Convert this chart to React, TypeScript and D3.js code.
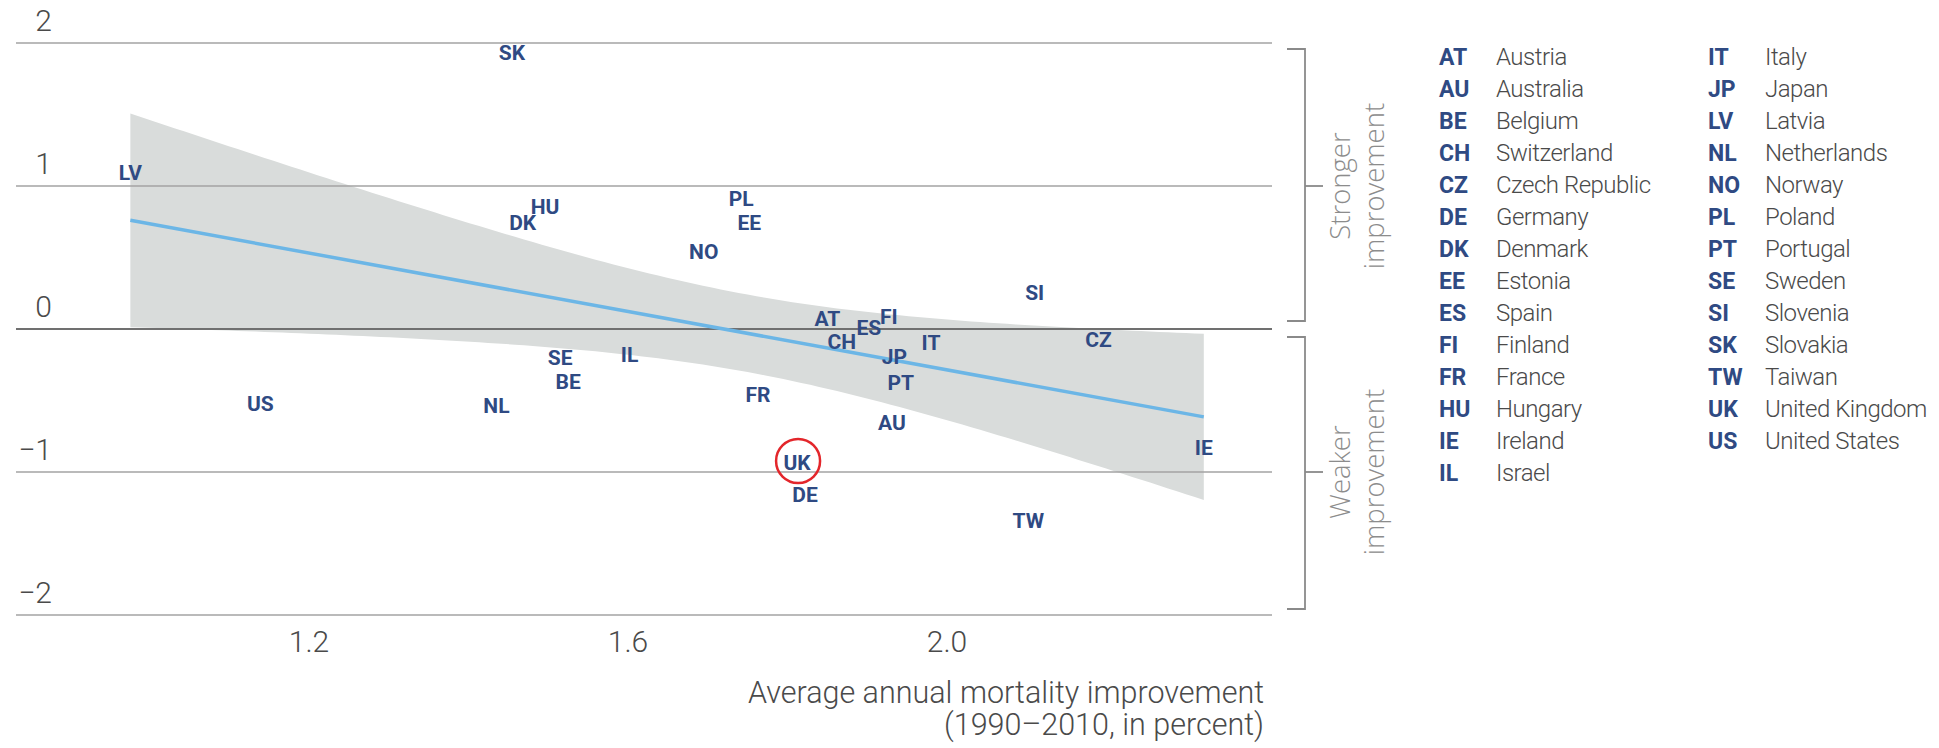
import React from "react";
import * as d3 from "d3";

// ---- data ----
const codes = [
  "AT", "AU", "BE", "CH", "CZ", "DE", "DK", "EE", "ES", "FI", "FR", "HU", "IE", "IL",
  "IT", "JP", "LV", "NL", "NO", "PL", "PT", "SE", "SI", "SK", "TW", "UK", "US",
];
const names = [
  "Austria", "Australia", "Belgium", "Switzerland", "Czech Republic", "Germany", "Denmark",
  "Estonia", "Spain", "Finland", "France", "Hungary", "Ireland", "Israel",
  "Italy", "Japan", "Latvia", "Netherlands", "Norway", "Poland", "Portugal", "Sweden",
  "Slovenia", "Slovakia", "Taiwan", "United Kingdom", "United States",
];
// Average annual mortality improvement 1990–2010 (percent)
const improvement = [
  1.850, 1.931, 1.525, 1.868, 2.190, 1.822, 1.468, 1.752, 1.902, 1.927, 1.763, 1.496, 2.322, 1.602,
  1.980, 1.934, 0.976, 1.435, 1.695, 1.742, 1.942, 1.515, 2.110, 1.4545, 2.102, 1.812, 1.139,
];
// Deviation (stronger / weaker improvement)
const deviation = [
  0.070, -0.655, -0.368, -0.089, -0.080, -1.161, 0.741, 0.741, 0.007, 0.086, -0.462, 0.853, -0.832, -0.182,
  -0.100, -0.194, 1.090, -0.538, 0.538, 0.909, -0.378, -0.205, 0.252, 1.930, -1.340, -0.937, -0.524,
];
const xTicks = [1.2, 1.6, 2.0];
const yTicks = [2, 1, 0, -1, -2];
const highlighted = "UK";
const xTitleLines = ["Average annual mortality improvement", "(1990\u20132010, in percent)"];
const bracketLabels = [
  ["Stronger", "improvement"],
  ["Weaker", "improvement"],
];
const legendRowsPerColumn = 14;
const T_CRIT = 2.0595; // 95% two-sided, df = n - 2 = 25

const NAVY = "#2f4a83";
const GREY_TEXT = "#4a4a4a";

export default function App() {
  const W = 1939;
  const H = 748;
  const x = d3.scaleLinear().domain([1.2, 2.0]).range([309, 947]);
  const y = d3.scaleLinear().domain([-2, 2]).range([615, 43]);
  const plotLeft = 16;
  const plotRight = 1272;

  // OLS regression with 95% confidence band
  const n = codes.length;
  const mx = d3.mean(improvement) as number;
  const my = d3.mean(deviation) as number;
  let sxx = 0;
  let sxy = 0;
  for (let i = 0; i < n; i++) {
    sxx += (improvement[i] - mx) ** 2;
    sxy += (improvement[i] - mx) * (deviation[i] - my);
  }
  const slope = sxy / sxx;
  const icpt = my - slope * mx;
  let sse = 0;
  for (let i = 0; i < n; i++) sse += (deviation[i] - (icpt + slope * improvement[i])) ** 2;
  const s = Math.sqrt(sse / (n - 2));
  const [xmin, xmax] = d3.extent(improvement) as [number, number];
  const xs = d3.range(0, 121).map((i) => xmin + ((xmax - xmin) * i) / 120);
  const bandPts = xs.map((v) => {
    const fit = icpt + slope * v;
    const se = s * Math.sqrt(1 / n + (v - mx) ** 2 / sxx);
    return { v, lo: fit - T_CRIT * se, hi: fit + T_CRIT * se };
  });
  const area = d3
    .area<{ v: number; lo: number; hi: number }>()
    .x((d) => x(d.v))
    .y0((d) => y(d.lo))
    .y1((d) => y(d.hi));
  const line = d3
    .line<number>()
    .x((v) => x(v))
    .y((v) => y(icpt + slope * v));

  const fmtY = d3.format("d");
  const fmtX = d3.format(".1f");

  // bracket geometry
  const brX = 1305;
  const brackets = [
    { top: y(2) + 6, bottom: y(0) - 8, mid: y(1) },
    { top: y(0) + 8, bottom: y(-2) - 6, mid: y(-1) },
  ];

  const ukIdx = codes.indexOf(highlighted);

  return (
    <svg
      width={W}
      height={H}
      style={{ position: "absolute", left: 0, top: 0, background: "#fff" }}
    >
      {/* confidence band */}
      <path d={area(bandPts) || ""} fill="#d9dcdb" />

      {/* gridlines */}
      {yTicks.map((t) => (
        <line
          key={"g" + t}
          x1={plotLeft}
          x2={plotRight}
          y1={y(t)}
          y2={y(t)}
          stroke={t === 0 ? "#707070" : "#a3a3a3"}
          strokeWidth={t === 0 ? 2.2 : 1.6}
        />
      ))}

      {/* regression line */}
      <path d={line([xmin, xmax]) || ""} stroke="#6cb6e6" strokeWidth={3.5} fill="none" />

      {/* y tick labels */}
      {yTicks.map((t) => (
        <text
          key={"yl" + t}
          x={52}
          y={y(t) - 12}
          textAnchor="end"
          fontFamily="Roboto"
          fontWeight={300}
          fontSize={30}
          fill={GREY_TEXT}
        >
          {fmtY(t)}
        </text>
      ))}

      {/* x tick labels */}
      {xTicks.map((t) => (
        <text
          key={"xl" + t}
          x={x(t)}
          y={652}
          textAnchor="middle"
          fontFamily="Roboto"
          fontWeight={300}
          fontSize={30}
          fill={GREY_TEXT}
        >
          {fmtX(t)}
        </text>
      ))}

      {/* x title */}
      {xTitleLines.map((l, i) => (
        <text
          key={"xt" + i}
          x={1264}
          y={703 + i * 32}
          textAnchor="end"
          fontFamily="Roboto"
          fontWeight={300}
          fontSize={30.5}
          fill={GREY_TEXT}
        >
          {l}
        </text>
      ))}

      {/* country labels */}
      {codes.map((c, i) => (
        <text
          key={"c" + c}
          x={x(improvement[i])}
          y={y(deviation[i])}
          textAnchor="middle"
          dominantBaseline="central"
          fontFamily="Roboto"
          fontWeight={700}
          fontSize={21}
          fill={NAVY}
        >
          {c}
        </text>
      ))}

      {/* highlight circle */}
      {ukIdx >= 0 && (
        <circle
          cx={x(improvement[ukIdx]) + 1}
          cy={y(deviation[ukIdx]) - 2}
          r={22}
          fill="none"
          stroke="#e3262b"
          strokeWidth={2.5}
        />
      )}

      {/* brackets */}
      {brackets.map((b, i) => (
        <g key={"br" + i} stroke="#8a8a8a" strokeWidth={1.8} fill="none">
          <path d={`M${brX - 18},${b.top}H${brX}V${b.bottom}H${brX - 18}`} />
          <line x1={brX} x2={brX + 18} y1={b.mid} y2={b.mid} />
        </g>
      ))}
      {bracketLabels.map((lines, i) => (
        <g key={"bl" + i} transform={`translate(0,${brackets[i].mid})`}>
          {lines.map((l, j) => (
            <text
              key={j}
              transform={`translate(${1339 + j * 34},0) rotate(-90)`}
              textAnchor="middle"
              dominantBaseline="central"
              fontFamily="Open Sans"
              fontWeight={300}
              fontSize={27.5}
              fill="#8c8c8c"
            >
              {l}
            </text>
          ))}
        </g>
      ))}

      {/* legend */}
      {codes.map((c, i) => {
        const col = Math.floor(i / legendRowsPerColumn);
        const row = i % legendRowsPerColumn;
        const cx = col === 0 ? 1439 : 1708;
        const ly = 57 + row * 32;
        return (
          <g key={"lg" + c}>
            <text
              x={cx}
              y={ly}
              dominantBaseline="central"
              fontFamily="Roboto"
              fontWeight={700}
              fontSize={23}
              fill={NAVY}
            >
              {c}
            </text>
            <text
              x={cx + 57}
              y={ly}
              dominantBaseline="central"
              fontFamily="Roboto"
              fontWeight={300}
              fontSize={24}
              letterSpacing={-0.5}
              fill={GREY_TEXT}
            >
              {names[i]}
            </text>
          </g>
        );
      })}
    </svg>
  );
}
